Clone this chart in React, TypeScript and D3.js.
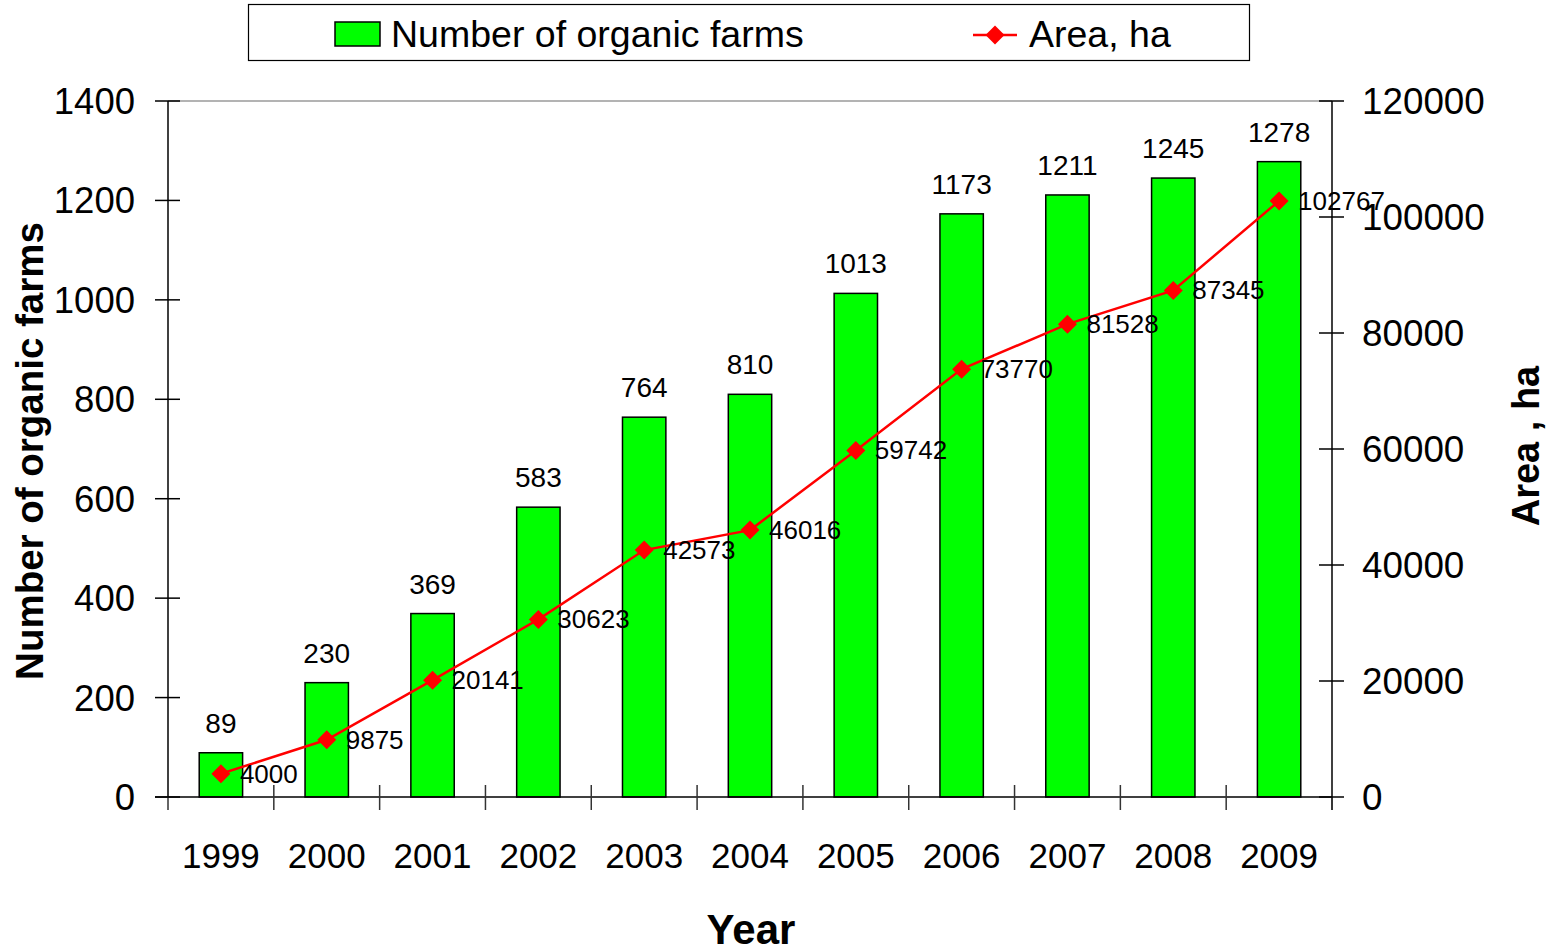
import React from "react";
import * as d3 from "d3";

// Organic farming in numbers, 1999–2009
const years = ["1999", "2000", "2001", "2002", "2003", "2004", "2005", "2006", "2007", "2008", "2009"];
const farms = [89, 230, 369, 583, 764, 810, 1013, 1173, 1211, 1245, 1278];
const areaHa = [4000, 9875, 20141, 30623, 42573, 46016, 59742, 73770, 81528, 87345, 102767];
const leftTicks = [0, 200, 400, 600, 800, 1000, 1200, 1400];
const rightTicks = [0, 20000, 40000, 60000, 80000, 100000, 120000];

const W = 1548;
const H = 949;
const M = { left: 168, right: 1332, top: 101, bottom: 797 };
const FONT = "'Liberation Sans', Arial, sans-serif";
const GREEN = "#00ff00";
const RED = "#ff0000";

export default function App() {
  const x = d3.scaleBand<string>().domain(years).range([M.left, M.right]).paddingInner(0).paddingOuter(0);
  const yL = d3.scaleLinear().domain([0, 1400]).range([M.bottom, M.top]);
  const yR = d3.scaleLinear().domain([0, 120000]).range([M.bottom, M.top]);
  const bw = x.bandwidth() * 0.41;
  const cx = (y: string) => (x(y) as number) + x.bandwidth() / 2;

  const line = d3
    .line<number>()
    .x((_, i) => cx(years[i]))
    .y((d) => yR(d));

  const diamond = (px: number, py: number, r: number) =>
    `M${px},${py - r}L${px + r},${py}L${px},${py + r}L${px - r},${py}Z`;

  const boundaries = years.map((y) => x(y) as number).concat([M.right]);

  return (
    <div style={{ position: "absolute", left: 0, top: 0 }}>
      <svg width={W} height={H} style={{ display: "block", fontFamily: FONT }}>
        <rect x={0} y={0} width={W} height={H} fill="#fff" />

        {/* legend */}
        <rect x={248.5} y={4.5} width={1001} height={56} fill="#fff" stroke="#000" strokeWidth={1.2} />
        <rect x={335} y={22} width={45} height={24} fill={GREEN} stroke="#000" strokeWidth={1.5} />
        <text x={391} y={47} fontSize={37.5} fill="#000">Number of organic farms</text>
        <line x1={973} x2={1017} y1={35} y2={35} stroke={RED} strokeWidth={2.5} />
        <path d={diamond(995, 35, 9.5)} fill={RED} />
        <text x={1029} y={47} fontSize={37.5} fill="#000">Area, ha</text>

        {/* plot frame top */}
        <line x1={M.left} x2={M.right} y1={M.top} y2={M.top} stroke="#9a9a9a" strokeWidth={1.5} />

        {/* bars */}
        {years.map((y, i) => (
          <rect
            key={"b" + y}
            x={cx(y) - bw / 2}
            y={yL(farms[i])}
            width={bw}
            height={M.bottom - yL(farms[i])}
            fill={GREEN}
            stroke="#000"
            strokeWidth={1.5}
          />
        ))}
        {years.map((y, i) => (
          <text key={"bl" + y} x={cx(y)} y={yL(farms[i]) - 20} fontSize={28} textAnchor="middle" fill="#000">
            {farms[i]}
          </text>
        ))}

        {/* axes */}
        <line x1={M.left} x2={M.left} y1={M.top} y2={M.bottom} stroke="#000" strokeWidth={1.5} />
        <line x1={M.right} x2={M.right} y1={M.top} y2={M.bottom + 13} stroke="#000" strokeWidth={1.5} />
        <line x1={M.left - 13} x2={M.right} y1={M.bottom} y2={M.bottom} stroke="#000" strokeWidth={1.5} />
        {boundaries.map((bx, i) => (
          <line
            key={"xt" + i}
            x1={bx}
            x2={bx}
            y1={i === 0 || i === boundaries.length - 1 ? M.bottom : M.bottom - 12}
            y2={M.bottom + 13}
            stroke="#333"
            strokeWidth={1.5}
          />
        ))}
        {leftTicks.map((t) => (
          <g key={"l" + t}>
            <line x1={M.left - 13} x2={M.left + 12} y1={yL(t)} y2={yL(t)} stroke="#000" strokeWidth={1.5} />
            <text x={135} y={yL(t) + 13} fontSize={36.5} textAnchor="end" fill="#000">
              {t}
            </text>
          </g>
        ))}
        {rightTicks.map((t) => (
          <g key={"r" + t}>
            <line x1={M.right - 13} x2={M.right + 12} y1={yR(t)} y2={yR(t)} stroke="#000" strokeWidth={1.5} />
            <text x={1362} y={yR(t) + 13} fontSize={36.8} textAnchor="start" fill="#000">
              {t}
            </text>
          </g>
        ))}
        {years.map((y) => (
          <text key={"xl" + y} x={cx(y)} y={868} fontSize={35} textAnchor="middle" fill="#000">
            {y}
          </text>
        ))}

        {/* area line */}
        <path d={line(areaHa) || ""} fill="none" stroke={RED} strokeWidth={2.5} />
        {years.map((y, i) => (
          <path key={"d" + y} d={diamond(cx(y), yR(areaHa[i]), 9.5)} fill={RED} />
        ))}
        {years.map((y, i) => (
          <text key={"al" + y} x={cx(y) + 19} y={yR(areaHa[i]) + 9} fontSize={26} fill="#000">
            {areaHa[i]}
          </text>
        ))}

        {/* axis titles */}
        <text
          transform={`translate(43,451) rotate(-90)`}
          fontSize={38.5}
          fontWeight="bold"
          textAnchor="middle"
          fill="#000"
        >
          Number of organic farms
        </text>
        <text
          transform={`translate(1539,446) rotate(-90)`}
          fontSize={38}
          fontWeight="bold"
          textAnchor="middle"
          fill="#000"
        >
          Area , ha
        </text>
        <text x={751} y={944} fontSize={42} fontWeight="bold" textAnchor="middle" fill="#000">
          Year
        </text>
      </svg>
    </div>
  );
}
